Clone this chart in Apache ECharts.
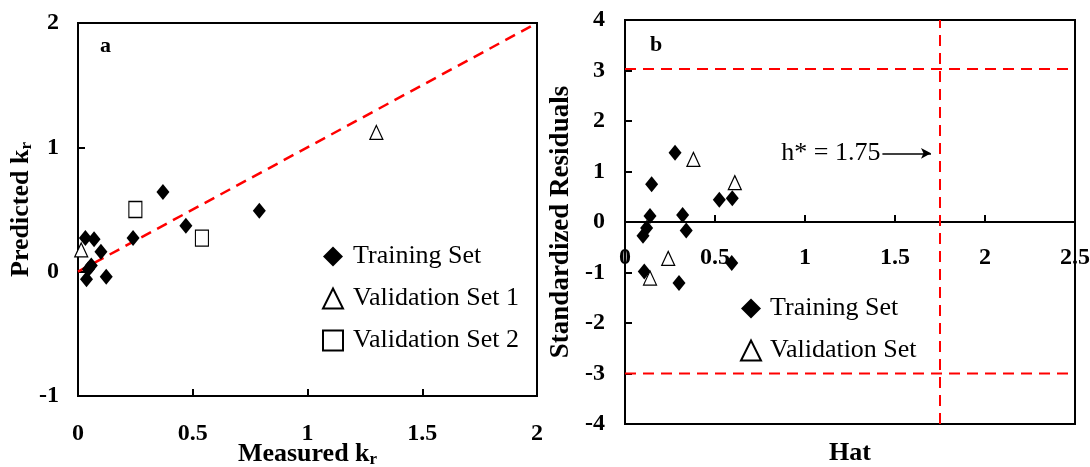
<!DOCTYPE html>
<html>
<head>
<meta charset="utf-8">
<script src="https://cdn.jsdelivr.net/npm/echarts@6/dist/echarts.min.js"></script>
<style>html,body{margin:0;padding:0;background:#fff}#c{width:1090px;height:467px}</style>
</head>
<body>
<div id="c"></div>
<script>
// Panel a: Predicted vs Measured kr
const trainingSetA = [[0.032,0.27],[0.07,0.26],[0.10,0.16],[0.058,0.05],[0.045,0.02],[0.037,-0.06],[0.123,-0.04],[0.24,0.27],[0.37,0.64],[0.47,0.37],[0.79,0.49]];
const validationSet1A = [[0.014,0.175],[1.30,1.12]];
const validationSet2A = [[0.25,0.50],[0.54,0.27]];
const identityLineA = [[0,0],[2,2]];
// Panel b: Williams plot
const trainingSetB = [[0.278,1.37],[0.148,0.75],[0.139,0.12],[0.12,-0.12],[0.10,-0.27],[0.32,0.14],[0.34,-0.17],[0.524,0.44],[0.596,0.47],[0.593,-0.81],[0.107,-0.98],[0.30,-1.21]];
const validationSetB = [[0.38,1.24],[0.61,0.78],[0.24,-0.72],[0.139,-1.11]];
const hStar = 1.75;
const residualUpper = 3.03;
const residualLower = -3;
const arrowY = 1.36;
const arrowStartX = 1.43;
const arrowEndX = 1.70;

const FONT = "'Liberation Serif','Times New Roman',serif";
const RED = '#ff0000';
const dash = [11, 7];

const chart = echarts.init(document.getElementById('c'));
const tickLabel = {fontSize: 24, fontWeight: 'bold', fontFamily: FONT, color: '#000'};
const axisLineBlack = {show: true, lineStyle: {color: '#000', width: 2}};
const nameStyle = {fontSize: 26, fontWeight: 'bold', fontFamily: FONT, color: '#000',
  rich: {sub: {fontSize: 17, fontWeight: 'bold', fontFamily: FONT, color: '#000', padding: [11, 0, 0, 0]}}};

chart.setOption({
  animation: false,
  backgroundColor: '#fff',
  title: [
    {text: 'a', left: 95, top: 30, textStyle: {fontSize: 22, fontWeight: 'bold', fontFamily: FONT, color: '#000'}},
    {text: 'b', left: 645, top: 29, textStyle: {fontSize: 22, fontWeight: 'bold', fontFamily: FONT, color: '#000'}}
  ],
  grid: [
    {left: 78, top: 23, width: 459, height: 373, show: true, borderColor: '#000', borderWidth: 2, containLabel: false, outerBoundsMode: 'none'},
    {left: 625, top: 20, width: 450, height: 404, show: true, borderColor: '#000', borderWidth: 2, containLabel: false, outerBoundsMode: 'none'}
  ],
  xAxis: [
    {type: 'value', gridIndex: 0, min: 0, max: 2, interval: 0.5,
     axisLine: {show: true, onZero: false, lineStyle: {color: '#000', width: 2}},
     axisTick: {show: true, inside: true, length: 7, lineStyle: {color: '#000', width: 2}},
     axisLabel: Object.assign({margin: 26}, tickLabel), splitLine: {show: false},
     name: 'Measured k{sub|r}', nameLocation: 'middle', nameGap: 44, nameMoveOverlap: false, nameTextStyle: nameStyle},
    {type: 'value', gridIndex: 1, min: 0, max: 2.5, interval: 0.5,
     axisLine: {show: true, onZero: true, lineStyle: {color: '#000', width: 2}},
     axisTick: {show: true, inside: true, length: 7, lineStyle: {color: '#000', width: 2}},
     axisLabel: Object.assign({margin: -178}, tickLabel), splitLine: {show: false},
     name: 'Hat', nameLocation: 'middle', nameGap: 16, nameTextStyle: nameStyle}
  ],
  yAxis: [
    {type: 'value', gridIndex: 0, min: -1, max: 2, interval: 1,
     axisLine: axisLineBlack,
     axisTick: {show: true, inside: true, length: 7, lineStyle: {color: '#000', width: 2}},
     axisLabel: Object.assign({margin: 19}, tickLabel), splitLine: {show: false},
     name: 'Predicted k{sub|r}', nameLocation: 'middle', nameGap: 39, nameTextStyle: nameStyle},
    {type: 'value', gridIndex: 1, min: -4, max: 4, interval: 1,
     axisLine: axisLineBlack,
     axisTick: {show: true, inside: true, length: 7, lineStyle: {color: '#000', width: 2}},
     axisLabel: Object.assign({margin: 20}, tickLabel), splitLine: {show: false},
     name: 'Standardized Residuals', nameLocation: 'middle', nameGap: 50,
     nameTextStyle: Object.assign({}, nameStyle, {fontSize: 27})}
  ],
  legend: [
    {orient: 'vertical', left: 317, top: 238, itemWidth: 20, itemHeight: 20, itemGap: 15,
     textStyle: {fontSize: 26, fontFamily: FONT, color: '#000', lineHeight: 27, padding: [0, 0, 0, 5]},
     data: [{name: 'Training Set', icon: 'diamond'}, {name: 'Validation Set 1', icon: 'triangle'}, {name: 'Validation Set 2', icon: 'rect'}]},
    {orient: 'vertical', left: 735, top: 290, itemWidth: 20, itemHeight: 20, itemGap: 15,
     textStyle: {fontSize: 26, fontFamily: FONT, color: '#000', lineHeight: 27, padding: [0, 0, 0, 4]},
     data: [{name: 'Training Set', icon: 'diamond'}, {name: 'Validation Set', icon: 'triangle'}]}
  ],
  series: [
    {type: 'line', name: 'identity', xAxisIndex: 0, yAxisIndex: 0, data: identityLineA, symbol: 'none', silent: true,
     lineStyle: {color: RED, width: 2.5, type: dash}, z: 1},
    {type: 'scatter', name: 'Training Set', xAxisIndex: 0, yAxisIndex: 0, data: trainingSetA, symbol: 'diamond', symbolSize: [13, 16],
     itemStyle: {color: '#000', opacity: 1}, z: 5},
    {type: 'scatter', name: 'Validation Set 1', xAxisIndex: 0, yAxisIndex: 0, data: validationSet1A, symbol: 'triangle', symbolSize: [13, 14],
     itemStyle: {color: '#fff', borderColor: '#000', borderWidth: 1.2, opacity: 1}, z: 5},
    {type: 'scatter', name: 'Validation Set 2', xAxisIndex: 0, yAxisIndex: 0, data: validationSet2A, symbol: 'rect', symbolSize: [13, 16],
     itemStyle: {color: '#fff', borderColor: '#000', borderWidth: 1.2, opacity: 1}, z: 5},
    {type: 'line', name: 'upper', xAxisIndex: 1, yAxisIndex: 1, data: [[0, residualUpper], [2.5, residualUpper]], symbol: 'none', silent: true,
     lineStyle: {color: RED, width: 2, type: dash}, z: 1},
    {type: 'line', name: 'lower', xAxisIndex: 1, yAxisIndex: 1, data: [[0, residualLower], [2.5, residualLower]], symbol: 'none', silent: true,
     lineStyle: {color: RED, width: 2, type: dash}, z: 1},
    {type: 'line', name: 'hstar', xAxisIndex: 1, yAxisIndex: 1, data: [[hStar, -4], [hStar, 4]], symbol: 'none', silent: true,
     lineStyle: {color: RED, width: 2, type: dash}, z: 1,
     markLine: {silent: true, symbol: ['none', 'arrow'], symbolSize: [8, 10], animation: false,
       lineStyle: {color: '#000', width: 1.5, type: 'solid'},
       label: {show: true, position: 'start', formatter: 'h* = ' + hStar, fontSize: 26, fontFamily: FONT, color: '#000', distance: 2},
       data: [[{coord: [arrowStartX, arrowY]}, {coord: [arrowEndX, arrowY]}]]}},
    {type: 'scatter', name: 'Training Set', xAxisIndex: 1, yAxisIndex: 1, data: trainingSetB, symbol: 'diamond', symbolSize: [13, 16],
     itemStyle: {color: '#000', opacity: 1}, z: 5},
    {type: 'scatter', name: 'Validation Set', xAxisIndex: 1, yAxisIndex: 1, data: validationSetB, symbol: 'triangle', symbolSize: [13, 14],
     itemStyle: {color: '#fff', borderColor: '#000', borderWidth: 1.2, opacity: 1}, z: 5}
  ]
});
</script>
</body>
</html>
